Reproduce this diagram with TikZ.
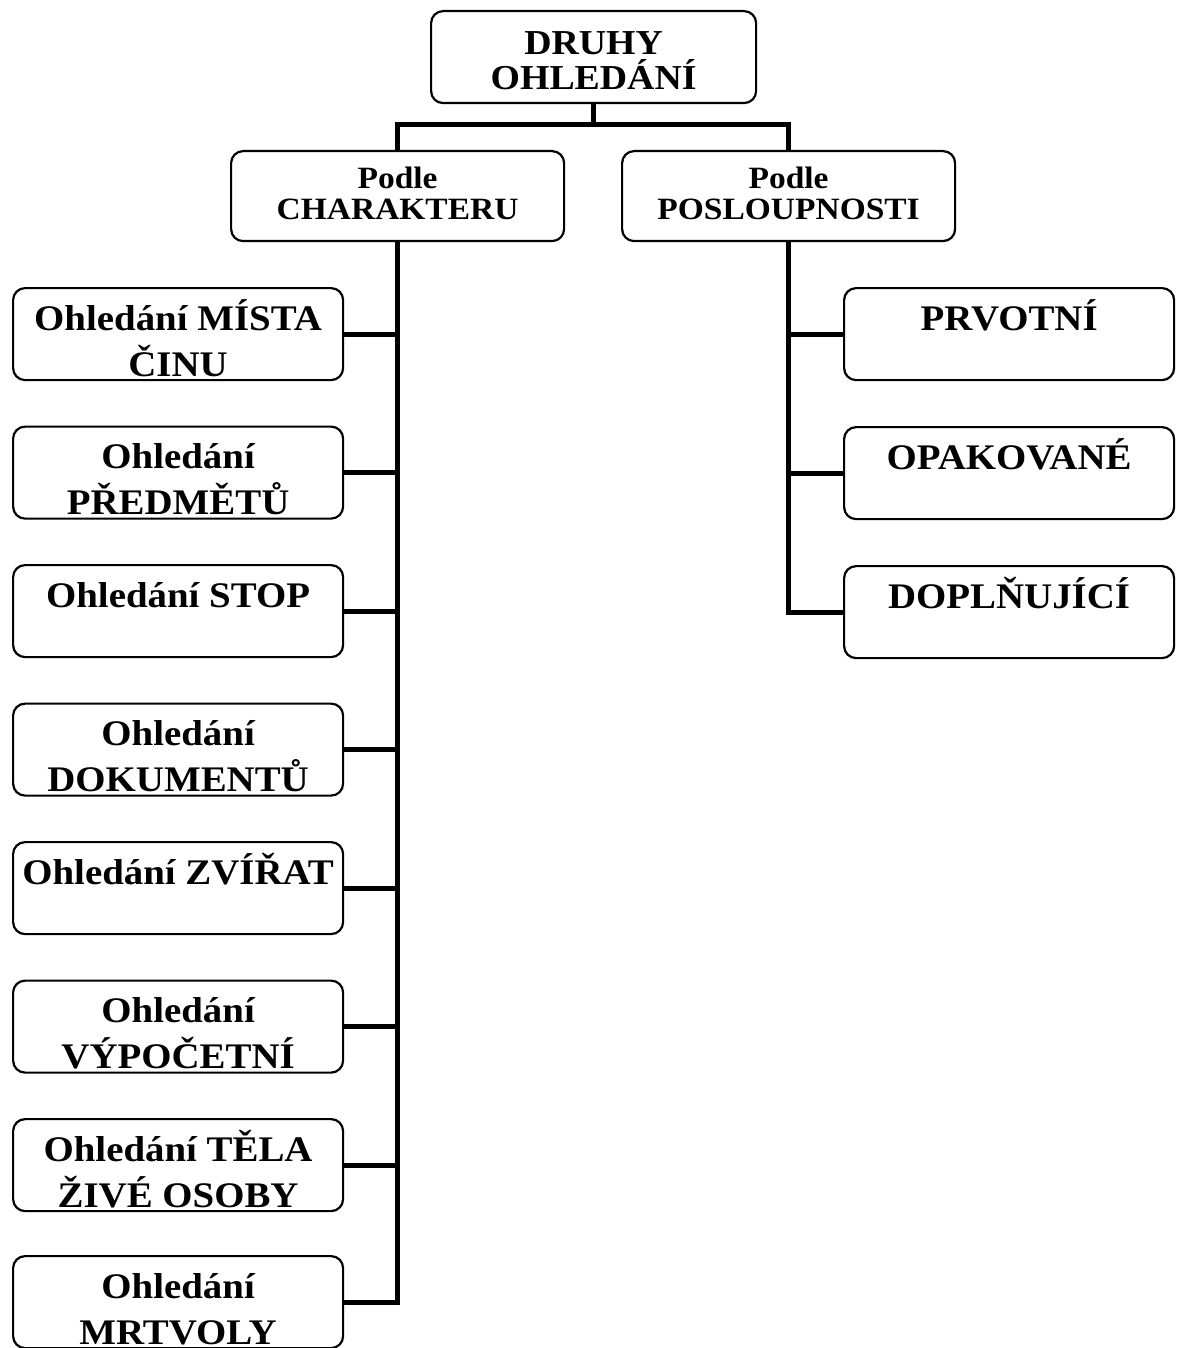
\documentclass[tikz,border=0pt]{standalone}
\usepackage{fontspec}
\setmainfont{Liberation Serif}[FakeStretch=1.08]
\tikzset{
  box/.style={draw, line width=2.2pt, rounded corners=12pt, inner sep=0pt, anchor=north west},
  conn/.style={line width=5pt},
}
\newcommand{\lefttext}[1]{\begin{minipage}[t][92pt][t]{330pt}\centering\bfseries\fontsize{36}{46}\selectfont\rule{0pt}{42pt}#1\end{minipage}}
\newcommand{\toptext}[1]{\begin{minipage}[t][92pt][t]{325pt}\centering\bfseries\fontsize{35}{35}\selectfont\rule{0pt}{43pt}#1\end{minipage}}
\newcommand{\midtext}[1]{\begin{minipage}[t][90pt][t]{333pt}\centering\bfseries\fontsize{31}{31}\selectfont\rule{0pt}{37pt}#1\end{minipage}}
\begin{document}
\begin{tikzpicture}[x=1pt,y=-1pt]
\useasboundingbox (0,0) rectangle (1178,1348);
% top level
\node[box] (top) at (430,10) {\toptext{DRUHY\\OHLEDÁNÍ}};
\node[box] (char) at (230,150) {\midtext{Podle\\CHARAKTERU}};
\node[box] (pos) at (621,150) {\midtext{Podle\\POSLOUPNOSTI}};
% left column
\node[box] (b1) at (12,287)    {\lefttext{Ohledání MÍSTA\\ČINU}};
\node[box] (b2) at (12,425.5)  {\lefttext{Ohledání\\PŘEDMĚTŮ}};
\node[box] (b3) at (12,564)    {\lefttext{Ohledání STOP}};
\node[box] (b4) at (12,702.5)  {\lefttext{Ohledání\\DOKUMENTŮ}};
\node[box] (b5) at (12,841)    {\lefttext{Ohledání ZVÍŘAT}};
\node[box] (b6) at (12,979.5)  {\lefttext{Ohledání\\VÝPOČETNÍ}};
\node[box] (b7) at (12,1118)   {\lefttext{Ohledání TĚLA\\ŽIVÉ OSOBY}};
\node[box] (b8) at (12,1255)   {\lefttext{Ohledání\\MRTVOLY}};
% right column
\node[box] (r1) at (843,287) {\lefttext{PRVOTNÍ}};
\node[box] (r2) at (843,426) {\lefttext{OPAKOVANÉ}};
\node[box] (r3) at (843,565) {\lefttext{DOPLŇUJÍCÍ}};
% connectors
\coordinate (jn) at (592.5,125);
\draw[conn] (top.south) -- (top.south |- jn);
\draw[conn] (char.north) |- (jn) -| (pos.north);
\draw[conn] (char.south) |- (b8.east);
\foreach \b in {b1,b2,b3,b4,b5,b6,b7}
  \draw[conn] (\b.east) -- (char.south |- \b.east);
\draw[conn] (pos.south) |- (r3.west);
\foreach \r in {r1,r2}
  \draw[conn] (\r.west) -- (pos.south |- \r.west);
\end{tikzpicture}
\end{document}
